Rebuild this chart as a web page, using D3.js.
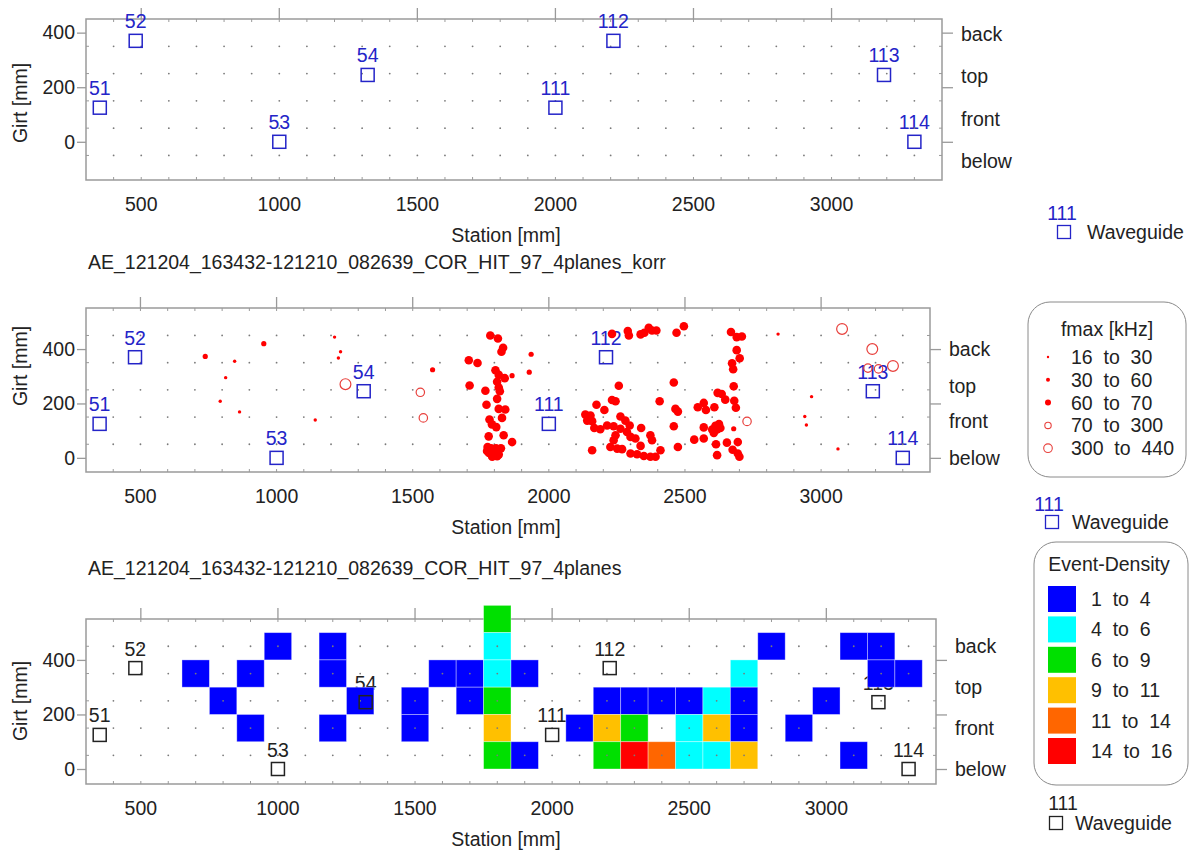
<!DOCTYPE html>
<html>
<head>
<meta charset="utf-8">
<script src="https://cdn.jsdelivr.net/npm/d3@7"></script>
<style>
  body { margin: 0; background: #fff; }
  text { font-family: Arial, "Liberation Sans", sans-serif; font-size: 19.5px; fill: #222; }
</style>
</head>
<body>
<svg id="chart" width="1191" height="852"></svg>
<script>
// waveguide sensors: station [mm], girt [mm], label
const sensorStation = [350, 480, 1000, 1320, 2000, 2210, 3190, 3300];
const sensorGirt = [125, 370, 0, 245, 125, 370, 245, 0];
const sensorLabel = ['51', '52', '53', '54', '111', '112', '113', '114'];

// located events: [station, girt, fmax class]
const events = [
  [738, 373, 1], [953, 420, 1], [846, 355, 0], [813, 295, 0], [793, 208, 0], [864, 169, 0],
  [1142, 139, 0], [1213, 444, 0], [1235, 390, 0], [1227, 367, 0], [1253, 271, 4], [1528, 241, 3],
  [1539, 147, 3], [1573, 324, 1],
  [1785, 450, 2], [1813, 439, 2], [1832, 405, 2], [1826, 390, 2], [1706, 359, 2], [1738, 349, 2],
  [1804, 322, 2], [1816, 305, 2], [1838, 293, 2], [1810, 280, 2], [1816, 259, 2], [1820, 245, 2],
  [1709, 266, 2], [1767, 247, 2], [1810, 217, 2], [1771, 195, 2], [1816, 180, 2], [1840, 178, 2],
  [1828, 147, 2], [1782, 141, 2], [1791, 123, 2], [1807, 113, 2], [1779, 79, 2], [1834, 83, 2],
  [1865, 58, 2], [1775, 40, 2], [1788, 35, 2], [1806, 35, 2], [1824, 35, 2], [1780, 18, 2],
  [1798, 12, 2], [1816, 12, 2], [1792, 4, 2], [1810, 6, 2], [1773, 25, 2],
  [1865, 302, 1], [1935, 381, 1], [1928, 315, 1],
  [2232, 456, 2], [2290, 466, 2], [2294, 450, 2], [2337, 454, 2], [2351, 460, 2], [2367, 478, 2],
  [2379, 468, 2], [2395, 468, 2], [2469, 460, 2], [2496, 484, 2],
  [2257, 265, 2], [2232, 213, 2], [2245, 208, 2], [2175, 195, 2], [2204, 176, 2], [2134, 159, 2],
  [2153, 156, 2], [2141, 137, 2], [2159, 135, 2], [2167, 110, 2], [2189, 105, 2], [2214, 119, 2],
  [2238, 116, 2], [2263, 152, 2], [2281, 137, 2], [2245, 83, 2], [2238, 65, 2], [2263, 107, 2],
  [2287, 95, 2], [2297, 119, 2], [2339, 110, 2], [2300, 77, 2], [2318, 71, 2], [2337, 44, 2],
  [2373, 83, 2], [2379, 65, 2], [2226, 40, 2], [2251, 34, 2], [2269, 32, 2], [2300, 16, 2],
  [2324, 13, 2], [2349, 7, 2], [2373, 4, 2], [2392, 4, 2], [2410, 28, 2], [2159, 28, 2],
  [2407, 208, 2], [2459, 277, 2], [2465, 180, 2], [2474, 170, 2], [2459, 116, 2], [2474, 40, 2],
  [2669, 463, 2], [2690, 444, 2], [2709, 446, 2], [2690, 396, 2], [2701, 366, 2], [2673, 348, 2],
  [2677, 326, 2], [2679, 263, 2], [2620, 239, 2], [2635, 235, 2], [2648, 214, 2], [2681, 210, 2],
  [2687, 184, 2], [2547, 186, 2], [2569, 202, 2], [2577, 176, 2], [2608, 186, 2], [2612, 118, 2],
  [2625, 124, 2], [2600, 104, 2], [2618, 104, 2], [2630, 110, 2], [2606, 92, 2], [2569, 112, 2],
  [2534, 67, 2], [2569, 71, 2], [2614, 50, 2], [2654, 56, 2], [2694, 58, 2], [2675, 30, 2],
  [2694, 16, 2], [2700, 4, 2], [2618, 10, 2],
  [2679, 107, 1], [2728, 134, 3],
  [2842, 455, 0], [2965, 225, 0], [2940, 152, 0], [2946, 121, 0], [3062, 33, 0],
  [3077, 474, 4], [3188, 400, 4], [3172, 330, 3], [3211, 327, 3], [3264, 338, 4]
];
const fmaxLabels = ['16  to  30', '30  to  60', '60  to  70', '70  to  300', '300  to  440'];

// event density cells: [station centre, girt lower edge, density class]
const cells = [
  [700, 300, 0], [800, 200, 0], [900, 300, 0], [900, 100, 0], [1000, 400, 0], [1200, 400, 0],
  [1200, 300, 0], [1200, 100, 0], [1300, 200, 0], [1500, 200, 0], [1500, 100, 0], [1600, 300, 0],
  [1700, 300, 0], [1700, 200, 0],
  [1800, 500, 2], [1800, 400, 1], [1800, 300, 1], [1800, 200, 2], [1800, 100, 3], [1800, 0, 2],
  [1900, 300, 0], [1900, 0, 0], [2100, 100, 0],
  [2200, 200, 0], [2200, 100, 3], [2200, 0, 2],
  [2300, 200, 0], [2300, 100, 2], [2300, 0, 5],
  [2400, 200, 0], [2400, 0, 4],
  [2500, 200, 0], [2500, 100, 1], [2500, 0, 1],
  [2600, 200, 1], [2600, 100, 3], [2600, 0, 1],
  [2700, 300, 1], [2700, 200, 0], [2700, 100, 0], [2700, 0, 3],
  [2800, 400, 0], [2900, 100, 0], [3000, 200, 0], [3100, 400, 0], [3100, 0, 0],
  [3200, 400, 0], [3200, 300, 0], [3300, 300, 0]
];
const densityLabels = ['1  to  4', '4  to  6', '6  to  9', '9  to  11', '11  to  14', '14  to  16'];
const densityColors = ['#0000ff', '#00ffff', '#00e000', '#ffc000', '#ff6600', '#ff0000'];

const sideLabels = ['back', 'top', 'front', 'below'];
const xTicks = [500, 1000, 1500, 2000, 2500, 3000];
const yTicks = [0, 200, 400];
const gridStations = d3.range(400, 3301, 100);

const sensorBlue = '#2424c8';
const frameGray = '#9a9a9a';

const panels = [
  { left: 86, right: 942, top: 19, bottom: 180, yDomain: [-140, 450],
    gridGirts: [-50, 50, 150, 250, 350], sideAt: [395, 240, 85, -70], girtY: 103,
    sensorColor: sensorBlue },
  { left: 86, right: 930, top: 308, bottom: 472, yDomain: [-52, 551],
    gridGirts: [50, 150, 250, 350, 450], sideAt: [400, 265, 135, 0], girtY: 366,
    sensorColor: sensorBlue, title: 'AE_121204_163432-121210_082639_COR_HIT_97_4planes_korr', titleY: 269 },
  { left: 86, right: 936, top: 619, bottom: 784, yDomain: [-55, 550],
    gridGirts: [50, 150, 250, 350, 450], sideAt: [450, 300, 150, 0], girtY: 701,
    sensorColor: '#222', title: 'AE_121204_163432-121210_082639_COR_HIT_97_4planes', titleY: 575 }
];

const svg = d3.select('#chart');

panels.forEach((p, pi) => {
  const x = d3.scaleLinear().domain([300, 3400]).range([p.left, p.right]);
  const y = d3.scaleLinear().domain(p.yDomain).range([p.bottom, p.top]);
  const g = svg.append('g').attr('class', 'panel-' + pi);

  if (p.title) {
    g.append('text').attr('x', 88).attr('y', p.titleY).text(p.title);
  }

  // frame
  g.append('rect')
    .attr('x', p.left).attr('y', p.top)
    .attr('width', p.right - p.left).attr('height', p.bottom - p.top)
    .attr('fill', 'none').attr('stroke', frameGray).attr('stroke-width', 1.5);

  // major station ticks on top edge, labels below
  g.append('g').selectAll('line').data(xTicks).join('line')
    .attr('x1', d => x(d)).attr('x2', d => x(d))
    .attr('y1', p.top).attr('y2', p.top - 11)
    .attr('stroke', frameGray).attr('stroke-width', 1.3);
  g.append('g').selectAll('text').data(xTicks).join('text')
    .attr('x', d => x(d)).attr('y', p.bottom + 31)
    .attr('text-anchor', 'middle').text(d => d);

  // minor ticks inside the frame
  const minor = g.append('g').attr('stroke', frameGray).attr('stroke-width', 1);
  minor.selectAll('.mt').data(gridStations).join('line')
    .attr('x1', d => x(d)).attr('x2', d => x(d)).attr('y1', p.top).attr('y2', p.top + 3);
  minor.selectAll('.mb').data(gridStations).join('line')
    .attr('x1', d => x(d)).attr('x2', d => x(d)).attr('y1', p.bottom).attr('y2', p.bottom - 3);
  minor.selectAll('.ml').data(p.gridGirts).join('line')
    .attr('y1', d => y(d)).attr('y2', d => y(d)).attr('x1', p.left).attr('x2', p.left + 3);
  minor.selectAll('.mr').data(p.gridGirts).join('line')
    .attr('y1', d => y(d)).attr('y2', d => y(d)).attr('x1', p.right).attr('x2', p.right - 3);

  // left girt axis
  const left = g.append('g').attr('transform', `translate(${p.left},0)`)
    .call(d3.axisLeft(y).tickValues(yTicks).tickSize(9).tickPadding(2));
  left.select('.domain').remove();
  left.selectAll('line').attr('stroke', frameGray).attr('stroke-width', 1.3);
  left.selectAll('text').attr('font-size', null).attr('font-family', null).attr('fill', null);

  // right side: position names
  const right = g.append('g').attr('transform', `translate(${p.right},0)`)
    .call(d3.axisRight(y).tickValues(yTicks).tickSize(11).tickFormat(''));
  right.select('.domain').remove();
  right.selectAll('line').attr('stroke', frameGray).attr('stroke-width', 1.3);
  g.append('g').selectAll('text').data(sideLabels).join('text')
    .attr('x', p.right + 19).attr('y', (d, i) => y(p.sideAt[i]))
    .attr('dy', '0.36em').text(d => d);

  g.append('text')
    .attr('transform', `translate(20,${p.girtY}) rotate(-90)`)
    .attr('text-anchor', 'middle').attr('dy', '0.36em').text('Girt [mm]');
  g.append('text').attr('x', 506).attr('y', p.bottom + 62)
    .attr('text-anchor', 'middle').text('Station [mm]');

  // sensor labels (drawn under the data)
  g.append('g').selectAll('text').data(sensorLabel).join('text')
    .attr('x', (d, i) => x(sensorStation[i]))
    .attr('y', (d, i) => y(sensorGirt[i]) - 12.5)
    .attr('text-anchor', 'middle')
    .style('fill', p.sensorColor).text(d => d);

  if (pi === 2) {
    g.append('g').selectAll('rect').data(cells).join('rect')
      .attr('x', d => x(d[0] - 50)).attr('y', d => y(d[1] + 100))
      .attr('width', d => x(d[0] + 50) - x(d[0] - 50))
      .attr('height', d => y(d[1]) - y(d[1] + 100))
      .attr('fill', d => densityColors[d[2]])
      .attr('stroke', '#ffffff').attr('stroke-opacity', 0.45).attr('stroke-width', 0.8);
  }

  // grid of dots
  const dots = d3.cross(gridStations, p.gridGirts);
  g.append('g').selectAll('circle').data(dots).join('circle')
    .attr('cx', d => x(d[0])).attr('cy', d => y(d[1])).attr('r', 0.9)
    .attr('fill', '#7a7a7a');

  if (pi === 1) {
    const r = [1.7, 2.6, 4.3, 4.2, 5.4];
    g.append('g').selectAll('circle').data(events).join('circle')
      .attr('cx', d => x(d[0])).attr('cy', d => y(d[1])).attr('r', d => r[d[2]])
      .attr('fill', d => (d[2] < 3 ? '#ff0000' : 'none'))
      .attr('stroke', d => (d[2] < 3 ? 'none' : '#e8403c'))
      .attr('stroke-width', 1.2);
  }

  // sensor squares
  g.append('g').selectAll('rect').data(sensorLabel).join('rect')
    .attr('x', (d, i) => x(sensorStation[i]) - 6.5)
    .attr('y', (d, i) => y(sensorGirt[i]) - 6.5)
    .attr('width', 13).attr('height', 13)
    .attr('fill', 'none').attr('stroke', p.sensorColor).attr('stroke-width', 1.5);
});

// waveguide legends
const waveguideLegends = [
  { labelX: 1062, labelY: 220, sqX: 1064, sqY: 232, textX: 1087, color: sensorBlue },
  { labelX: 1049, labelY: 511, sqX: 1052, sqY: 522, textX: 1072, color: sensorBlue },
  { labelX: 1063, labelY: 810, sqX: 1056, sqY: 823, textX: 1075, color: '#222' }
];
waveguideLegends.forEach(w => {
  svg.append('text').attr('x', w.labelX).attr('y', w.labelY)
    .attr('text-anchor', 'middle').style('fill', w.color).text('111');
  svg.append('rect').attr('x', w.sqX - 6.5).attr('y', w.sqY - 6.5)
    .attr('width', 13).attr('height', 13)
    .attr('fill', 'none').attr('stroke', w.color).attr('stroke-width', 1.3);
  svg.append('text').attr('x', w.textX).attr('y', w.sqY).attr('dy', '0.36em').text('Waveguide');
});

// fmax legend
const fl = svg.append('g');
fl.append('rect').attr('x', 1028).attr('y', 302).attr('width', 158).attr('height', 175)
  .attr('rx', 22).attr('fill', '#fff').attr('stroke', '#8a8a8a').attr('stroke-width', 1);
fl.append('text').attr('x', 1107).attr('y', 336).attr('text-anchor', 'middle').text('fmax [kHz]');
const legendR = [1.2, 2, 3, 3.2, 4.3];
fmaxLabels.forEach((lab, i) => {
  const cy = 357 + i * 22.8;
  fl.append('circle').attr('cx', 1048).attr('cy', cy).attr('r', legendR[i])
    .attr('fill', i < 3 ? '#ff0000' : 'none')
    .attr('stroke', i < 3 ? 'none' : '#e8403c').attr('stroke-width', 1.1);
  fl.append('text').attr('x', 1071).attr('y', cy).attr('dy', '0.36em')
    .style('white-space', 'pre').text(lab);
});

// density legend
const dl = svg.append('g');
dl.append('rect').attr('x', 1034).attr('y', 542).attr('width', 154).attr('height', 243)
  .attr('rx', 22).attr('fill', '#fff').attr('stroke', '#8a8a8a').attr('stroke-width', 1);
dl.append('text').attr('x', 1109).attr('y', 571).attr('text-anchor', 'middle').text('Event-Density');
densityLabels.forEach((lab, i) => {
  const cy = 599 + i * 30.4;
  dl.append('rect').attr('x', 1048).attr('y', cy - 13).attr('width', 28).attr('height', 26)
    .attr('fill', densityColors[i]);
  dl.append('text').attr('x', 1091).attr('y', cy).attr('dy', '0.36em')
    .style('white-space', 'pre').text(lab);
});
</script>
</body>
</html>
